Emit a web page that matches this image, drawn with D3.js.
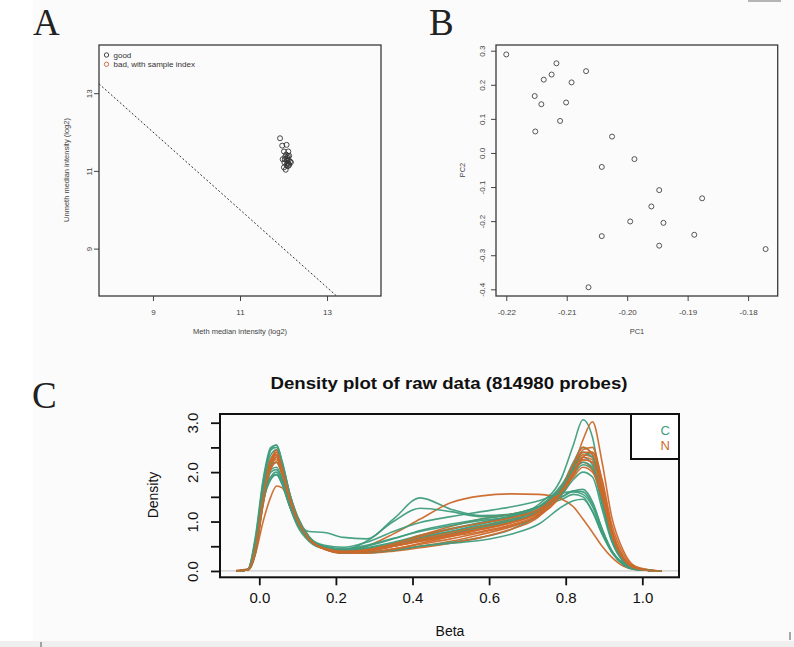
<!DOCTYPE html>
<html>
<head>
<meta charset="utf-8">
<script src="https://cdn.jsdelivr.net/npm/d3@7"></script>
<style>
  body { margin: 0; background: #fff; }
  svg { display: block; font-family: "Liberation Sans", Arial, sans-serif; }
</style>
</head>
<body>
<div id="display"></div>
<script>
// panel A: median intensities per sample (log2)
var methMedian   = [11.92, 11.97, 12.07, 12.01, 12.11, 12.13, 11.98, 12.03, 12.15, 12.17, 12.09, 12.07,
                    12.01, 12.05, 12.10, 12.06, 12.12, 12.09, 12.04, 12.11, 12.08, 12.13, 12.02, 12.10];
var unmethMedian = [11.84, 11.65, 11.67, 11.50, 11.50, 11.39, 11.30, 11.30, 11.24, 11.22, 11.20, 11.15,
                    11.09, 11.03, 11.38, 11.42, 11.28, 11.33, 11.37, 11.18, 11.26, 11.15, 11.22, 11.12];
var badCutoff = 10.5;
var ticksA = [9, 11, 13];
var legendA = ["good", "bad, with sample index"];

// panel B: PCA
var pc1 = [-0.2200, -0.2117, -0.2125, -0.2138, -0.2068, -0.2092, -0.2153, -0.2142, -0.2101, -0.2111, -0.2152, -0.2025,
           -0.1988, -0.2042, -0.1947, -0.1876, -0.1960, -0.1995, -0.1940, -0.2042, -0.1889, -0.1947, -0.1771, -0.2064];
var pc2 = [0.289, 0.263, 0.230, 0.215, 0.240, 0.207, 0.167, 0.143, 0.148, 0.094, 0.063, 0.048,
           -0.018, -0.041, -0.109, -0.133, -0.157, -0.201, -0.205, -0.244, -0.240, -0.272, -0.282, -0.394];
var ticksBx = [-0.22, -0.21, -0.20, -0.19, -0.18];
var ticksBy = [-0.4, -0.3, -0.2, -0.1, 0.0, 0.1, 0.2, 0.3];

// panel C: beta density curves, read at these beta values
var betaGrid = [-0.06, -0.03, -0.01, 0.01, 0.03, 0.045, 0.06, 0.08, 0.10, 0.13, 0.17, 0.22, 0.28, 0.35, 0.42,
                0.5, 0.58, 0.66, 0.73, 0.79, 0.82, 0.845, 0.87, 0.895, 0.92, 0.95, 0.98, 1.02, 1.05];
var densityC = [
  [0, 0.03, 0.6, 1.7, 2.35, 2.45, 2.1, 1.5, 1.05, 0.66, 0.47, 0.4, 0.42, 0.52, 0.66, 0.8, 0.95, 1.1, 1.35, 1.9, 2.55, 3.06, 2.7, 1.6, 0.7, 0.2, 0.05, 0.01, 0],
  [0, 0.02, 0.4, 1.4, 1.9, 2.0, 1.8, 1.3, 0.95, 0.8, 0.78, 0.68, 0.65, 1.05, 1.48, 1.25, 1.12, 1.15, 1.3, 1.45, 1.55, 1.5, 1.2, 0.75, 0.4, 0.15, 0.04, 0.01, 0],
  [0, 0.02, 0.45, 1.5, 2.05, 2.1, 1.85, 1.3, 0.9, 0.6, 0.45, 0.42, 0.6, 1.0, 1.27, 1.2, 1.1, 1.15, 1.3, 1.5, 1.62, 1.65, 1.4, 0.85, 0.4, 0.15, 0.04, 0.01, 0],
  [0, 0.03, 0.55, 1.75, 2.45, 2.55, 2.2, 1.55, 1.1, 0.7, 0.48, 0.38, 0.37, 0.42, 0.5, 0.58, 0.68, 0.85, 1.15, 1.7, 2.2, 2.5, 2.35, 1.5, 0.7, 0.22, 0.05, 0.01, 0],
  [0, 0.02, 0.5, 1.6, 2.2, 2.3, 2.0, 1.45, 1.0, 0.65, 0.48, 0.42, 0.47, 0.58, 0.72, 0.86, 0.98, 1.1, 1.3, 1.75, 2.1, 2.3, 2.15, 1.4, 0.65, 0.2, 0.05, 0.01, 0],
  [0, 0.03, 0.65, 1.8, 2.45, 2.5, 2.15, 1.5, 1.05, 0.68, 0.47, 0.4, 0.44, 0.55, 0.68, 0.8, 0.92, 1.05, 1.22, 1.6, 1.95, 2.15, 2.05, 1.35, 0.62, 0.2, 0.05, 0.01, 0],
  [0, 0.02, 0.4, 1.4, 1.85, 1.95, 1.75, 1.3, 0.95, 0.62, 0.45, 0.38, 0.38, 0.42, 0.5, 0.56, 0.62, 0.75, 0.95, 1.3, 1.42, 1.45, 1.2, 0.75, 0.38, 0.13, 0.03, 0.01, 0],
  [0, 0.02, 0.5, 1.55, 2.1, 2.2, 1.95, 1.4, 1.0, 0.66, 0.48, 0.43, 0.5, 0.65, 0.82, 0.95, 1.05, 1.15, 1.3, 1.5, 1.62, 1.6, 1.35, 0.85, 0.42, 0.14, 0.04, 0.01, 0],
  [0, 0.03, 0.7, 1.85, 2.5, 2.55, 2.2, 1.55, 1.08, 0.68, 0.46, 0.37, 0.4, 0.5, 0.62, 0.75, 0.88, 1.02, 1.2, 1.65, 2.1, 2.4, 2.3, 1.5, 0.7, 0.22, 0.05, 0.01, 0],
  [0, 0.02, 0.45, 1.5, 2.0, 2.05, 1.85, 1.35, 0.98, 0.66, 0.5, 0.45, 0.52, 0.66, 0.8, 0.92, 1.02, 1.1, 1.25, 1.55, 1.85, 2.0, 1.9, 1.25, 0.6, 0.19, 0.05, 0.01, 0],
  [0, 0.02, 0.5, 1.6, 2.15, 2.2, 1.95, 1.42, 1.0, 0.65, 0.46, 0.4, 0.45, 0.56, 0.7, 0.84, 0.98, 1.12, 1.3, 1.7, 2.05, 2.2, 2.1, 1.4, 0.66, 0.2, 0.05, 0.01, 0],
  [0, 0.02, 0.42, 1.45, 1.9, 1.95, 1.75, 1.3, 0.95, 0.66, 0.52, 0.48, 0.58, 0.8, 0.98, 1.1, 1.2, 1.3, 1.42, 1.58, 1.6, 1.55, 1.3, 0.8, 0.4, 0.14, 0.04, 0.01, 0]
];
var densityN = [
  [0, 0.02, 0.45, 1.55, 2.25, 2.4, 2.1, 1.5, 1.05, 0.66, 0.45, 0.37, 0.38, 0.45, 0.56, 0.7, 0.85, 1.0, 1.2, 1.65, 2.1, 2.65, 3.02, 2.2, 1.1, 0.42, 0.1, 0.02, 0],
  [0, 0.03, 0.5, 1.6, 2.25, 2.35, 2.05, 1.45, 1.0, 0.65, 0.46, 0.4, 0.5, 0.75, 1.05, 1.38, 1.52, 1.56, 1.55, 1.45, 1.3, 1.05, 0.78, 0.5, 0.28, 0.1, 0.03, 0.01, 0],
  [0, 0.02, 0.35, 1.35, 2.1, 2.3, 2.05, 1.5, 1.05, 0.66, 0.44, 0.36, 0.37, 0.42, 0.5, 0.6, 0.74, 0.9, 1.12, 1.6, 2.05, 2.45, 2.5, 1.8, 0.85, 0.28, 0.07, 0.01, 0],
  [0.01, 0.04, 0.35, 1.0, 1.5, 1.72, 1.68, 1.3, 0.95, 0.62, 0.45, 0.38, 0.4, 0.5, 0.62, 0.75, 0.9, 1.05, 1.25, 1.7, 2.1, 2.35, 2.3, 1.6, 0.75, 0.24, 0.06, 0.01, 0],
  [0, 0.02, 0.4, 1.45, 2.2, 2.45, 2.15, 1.55, 1.08, 0.68, 0.45, 0.36, 0.36, 0.4, 0.47, 0.56, 0.68, 0.85, 1.1, 1.65, 2.15, 2.5, 2.35, 1.55, 0.7, 0.22, 0.05, 0.01, 0],
  [0, 0.02, 0.45, 1.5, 2.2, 2.35, 2.05, 1.48, 1.04, 0.66, 0.46, 0.39, 0.42, 0.52, 0.65, 0.78, 0.9, 1.02, 1.2, 1.6, 1.95, 2.25, 2.2, 1.6, 0.8, 0.27, 0.06, 0.01, 0],
  [0, 0.03, 0.5, 1.55, 2.25, 2.4, 2.1, 1.5, 1.05, 0.67, 0.47, 0.4, 0.44, 0.55, 0.72, 0.9, 1.05, 1.15, 1.3, 1.7, 2.05, 2.3, 2.25, 1.65, 0.82, 0.28, 0.07, 0.01, 0],
  [0, 0.02, 0.38, 1.35, 2.05, 2.2, 1.98, 1.45, 1.02, 0.65, 0.45, 0.37, 0.38, 0.44, 0.54, 0.65, 0.78, 0.92, 1.12, 1.55, 1.95, 2.3, 2.4, 1.85, 0.95, 0.35, 0.08, 0.02, 0],
  [0, 0.02, 0.42, 1.42, 2.15, 2.3, 2.0, 1.45, 1.0, 0.64, 0.44, 0.37, 0.4, 0.5, 0.62, 0.74, 0.86, 0.98, 1.18, 1.62, 2.0, 2.2, 2.05, 1.45, 0.7, 0.22, 0.05, 0.01, 0],
  [0.01, 0.04, 0.5, 1.5, 2.15, 2.25, 2.0, 1.45, 1.02, 0.64, 0.45, 0.38, 0.41, 0.5, 0.6, 0.72, 0.84, 0.98, 1.2, 1.7, 2.15, 2.4, 2.4, 1.7, 0.82, 0.27, 0.06, 0.01, 0],
  [0, 0.02, 0.4, 1.4, 2.1, 2.2, 1.95, 1.42, 1.0, 0.64, 0.45, 0.39, 0.43, 0.55, 0.7, 0.85, 0.97, 1.08, 1.25, 1.6, 1.9, 2.1, 2.0, 1.5, 0.78, 0.26, 0.06, 0.01, 0],
  [0, 0.02, 0.45, 1.5, 2.2, 2.3, 2.0, 1.46, 1.02, 0.65, 0.46, 0.4, 0.42, 0.5, 0.6, 0.7, 0.8, 0.94, 1.15, 1.6, 2.0, 2.25, 2.2, 1.55, 0.75, 0.25, 0.06, 0.01, 0]
];
var groupNames = ["C", "N"];
var groupColors = ["#3f9d7d", "#cc692b"];
var ticksCx = [0, 0.2, 0.4, 0.6, 0.8, 1.0];
var ticksCy = [0, 0.5, 1.0, 1.5, 2.0, 2.5, 3.0];
var labelsCy = [0, 1, 2, 3];

var W = 794, H = 647;
var svg = d3.select("#display").append("svg").attr("width", W).attr("height", H);

// background, like the scanned figure
svg.append("rect").attr("width", W).attr("height", H).attr("fill", "#fff");
svg.append("rect").attr("x", 33).attr("width", W - 33).attr("height", 641).attr("fill", "#fbfbfb");
svg.append("rect").attr("y", 641).attr("width", W).attr("height", 6).attr("fill", "#efefef");
svg.append("rect").attr("x", 748).attr("y", 0).attr("width", 33).attr("height", 2).attr("fill", "#b5b5b5");
svg.append("line").attr("x1", 41).attr("x2", 41).attr("y1", 642).attr("y2", 647).attr("stroke", "#555");
svg.append("line").attr("x1", 790).attr("x2", 790).attr("y1", 632).attr("y2", 640).attr("stroke", "#555");

function panelLetter(txt, x, y) {
  svg.append("text").attr("x", x).attr("y", y)
    .attr("font-family", "'Liberation Serif', 'DejaVu Serif', serif")
    .attr("font-size", 37).attr("fill", "#222").text(txt);
}
panelLetter("A", 33, 35);
panelLetter("B", 429, 35);
panelLetter("C", 32, 408);

// rotate y tick labels like R (las = 0)
function rotateYLabels(g, off) {
  g.selectAll(".tick text")
    .attr("transform", "rotate(-90)")
    .attr("x", 0).attr("y", off).attr("dy", 0)
    .attr("text-anchor", "middle");
}

function styleAxis(g, col, w) {
  g.select(".domain").remove();
  g.selectAll(".tick line").attr("stroke", col).attr("stroke-width", w);
  g.selectAll(".tick text").attr("fill", col);
}

// ---------------- A ----------------
var xA = d3.scaleLinear().domain([7.76, 14.24]).range([99, 381]);
var yA = d3.scaleLinear().domain([7.78, 14.24]).range([296, 45]);
var gA = svg.append("g");

var lineA = [xA.domain()[0], 2 * badCutoff - yA.domain()[0]];
gA.append("line")
  .attr("x1", xA(lineA[0])).attr("y1", yA(2 * badCutoff - lineA[0]))
  .attr("x2", xA(lineA[1])).attr("y2", yA(2 * badCutoff - lineA[1]))
  .attr("stroke", "#333").attr("stroke-width", 1).attr("stroke-dasharray", "2,2");

gA.selectAll("circle.pt")
  .data(methMedian).enter().append("circle")
    .attr("class", "pt")
    .attr("cx", function(d) { return xA(d); })
    .attr("cy", function(d, i) { return yA(unmethMedian[i]); })
    .attr("r", 2.5)
    .attr("fill", "none").attr("stroke", "#333").attr("stroke-width", 0.9);

var axAx = gA.append("g").attr("transform", "translate(0,296)")
  .call(d3.axisBottom(xA).tickValues(ticksA).tickSize(5).tickPadding(8).tickFormat(d3.format("d")));
styleAxis(axAx, "#444", 1);
axAx.selectAll("text").attr("font-size", 8).attr("font-family", "'Liberation Sans', Arial");

var axAy = gA.append("g").attr("transform", "translate(99,0)")
  .call(d3.axisLeft(yA).tickValues(ticksA).tickSize(5).tickFormat(d3.format("d")));
styleAxis(axAy, "#444", 1);
axAy.selectAll("text").attr("font-size", 8).attr("font-family", "'Liberation Sans', Arial");
rotateYLabels(axAy, -7);

gA.append("rect").attr("x", 99).attr("y", 45).attr("width", 282).attr("height", 251)
  .attr("fill", "none").attr("stroke", "#3a3a3a").attr("stroke-width", 1.3);

gA.append("text").attr("x", 240).attr("y", 334).attr("text-anchor", "middle")
  .attr("font-size", 7.5).attr("fill", "#444").text("Meth median intensity (log2)");
gA.append("text").attr("transform", "translate(69,170) rotate(-90)").attr("text-anchor", "middle")
  .attr("font-size", 7.5).attr("fill", "#444").text("Unmeth median intensity (log2)");

var legA = gA.selectAll("g.leg").data(legendA).enter().append("g")
  .attr("transform", function(d, i) { return "translate(106.5," + (55 + i * 9.3) + ")"; });
legA.append("circle").attr("r", 2.2).attr("fill", "none").attr("stroke-width", 0.9)
  .attr("stroke", function(d, i) { return i == 0 ? "#333" : "#c8643c"; });
legA.append("text").attr("x", 7).attr("y", 2.8).attr("font-size", 8).attr("fill", "#333")
  .text(function(d) { return d; });

// ---------------- B ----------------
var xB = d3.scaleLinear().domain([-0.2217, -0.1751]).range([496, 777.7]);
var yB = d3.scaleLinear().domain([-0.4196, 0.3167]).range([296, 45]);
var gB = svg.append("g");

gB.selectAll("circle")
  .data(pc1).enter().append("circle")
    .attr("cx", function(d) { return xB(d); })
    .attr("cy", function(d, i) { return yB(pc2[i]); })
    .attr("r", 2.5)
    .attr("fill", "none").attr("stroke", "#444").attr("stroke-width", 0.9);

var axBx = gB.append("g").attr("transform", "translate(0,296)")
  .call(d3.axisBottom(xB).tickValues(ticksBx).tickSize(5).tickPadding(8)
    .tickFormat(function(d) { return d.toFixed(2); }));
styleAxis(axBx, "#444", 1);
axBx.selectAll("text").attr("font-size", 8).attr("font-family", "'Liberation Sans', Arial");

var axBy = gB.append("g").attr("transform", "translate(496,0)")
  .call(d3.axisLeft(yB).tickValues(ticksBy).tickSize(5)
    .tickFormat(function(d) { return d.toFixed(1); }));
styleAxis(axBy, "#444", 1);
axBy.selectAll("text").attr("font-size", 8).attr("font-family", "'Liberation Sans', Arial");
rotateYLabels(axBy, -11.5);

gB.append("rect").attr("x", 496).attr("y", 45).attr("width", 281.7).attr("height", 251)
  .attr("fill", "none").attr("stroke", "#3a3a3a").attr("stroke-width", 1.3);

gB.append("text").attr("x", 637).attr("y", 334).attr("text-anchor", "middle")
  .attr("font-size", 7.5).attr("fill", "#444").text("PC1");
gB.append("text").attr("transform", "translate(464.5,170) rotate(-90)").attr("text-anchor", "middle")
  .attr("font-size", 7.5).attr("fill", "#444").text("PC2");

// ---------------- C ----------------
var xC = d3.scaleLinear().domain([-0.1026, 1.0958]).range([220, 679]);
var yC = d3.scaleLinear().domain([-0.128, 3.176]).range([577.3, 414]);
var gC = svg.append("g");

gC.append("line")
  .attr("x1", xC.range()[0]).attr("x2", xC.range()[1])
  .attr("y1", yC(0)).attr("y2", yC(0))
  .attr("stroke", "#c9c9c9").attr("stroke-width", 1.2);

var densLine = d3.line()
  .x(function(d, i) { return xC(betaGrid[i]); })
  .y(function(d) { return yC(d); })
  .curve(d3.curveMonotoneX);

// interleave groups so neither sits fully on top
var curves = [];
for (var i = 0; i < densityC.length; i++) {
  curves.push({ g: 0, v: densityC[i] });
  curves.push({ g: 1, v: densityN[i] });
}
gC.selectAll("path.dens")
  .data(curves).enter().append("path")
    .attr("class", "dens")
    .attr("d", function(d) { return densLine(d.v); })
    .attr("fill", "none")
    .attr("stroke", function(d) { return groupColors[d.g]; })
    .attr("stroke-width", 1.6)
    .attr("stroke-opacity", 0.95);

var axCx = gC.append("g").attr("transform", "translate(0,577.3)")
  .call(d3.axisBottom(xC).tickValues(ticksCx).tickSize(8).tickPadding(7)
    .tickFormat(function(d) { return d.toFixed(1); }));
styleAxis(axCx, "#111", 1.8);
axCx.selectAll("text").attr("font-size", 15);

var axCy = gC.append("g").attr("transform", "translate(220,0)")
  .call(d3.axisLeft(yC).tickValues(ticksCy).tickSize(9)
    .tickFormat(function(d) { return labelsCy.indexOf(d) >= 0 ? d.toFixed(1) : ""; }));
styleAxis(axCy, "#111", 1.8);
axCy.selectAll("text").attr("font-size", 15);
rotateYLabels(axCy, -22);

gC.append("rect").attr("x", 220).attr("y", 414).attr("width", 459).attr("height", 163.3)
  .attr("fill", "none").attr("stroke", "#111").attr("stroke-width", 2);

// legend box
gC.append("rect").attr("x", 631).attr("y", 414).attr("width", 48).attr("height", 45)
  .attr("fill", "#fff").attr("stroke", "#111").attr("stroke-width", 2);
gC.selectAll("text.leg").data(groupNames).enter().append("text")
  .attr("class", "leg")
  .attr("x", 670).attr("y", function(d, i) { return 434.5 + i * 15.5; })
  .attr("text-anchor", "end").attr("font-size", 13)
  .attr("fill", function(d, i) { return groupColors[i]; })
  .text(function(d) { return d; });

gC.append("text").attr("x", 449).attr("y", 389).attr("text-anchor", "middle")
  .attr("font-size", 16).attr("font-weight", "bold").attr("fill", "#111")
  .attr("textLength", 357).attr("lengthAdjust", "spacingAndGlyphs")
  .text("Density plot of raw data (814980 probes)");
gC.append("text").attr("x", 450).attr("y", 636).attr("text-anchor", "middle")
  .attr("font-size", 14).attr("fill", "#111").text("Beta");
gC.append("text").attr("transform", "translate(158,495) rotate(-90)").attr("text-anchor", "middle")
  .attr("font-size", 14).attr("fill", "#111").text("Density");
</script>
</body>
</html>
